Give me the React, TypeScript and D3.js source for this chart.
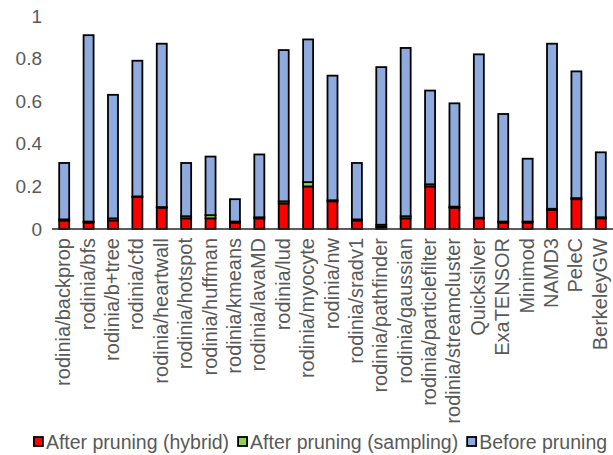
import React from "react";
import * as d3 from "d3";

const categories = [
  "rodinia/backprop", "rodinia/bfs", "rodinia/b+tree", "rodinia/cfd", "rodinia/heartwall",
  "rodinia/hotspot", "rodinia/huffman", "rodinia/kmeans", "rodinia/lavaMD", "rodinia/lud",
  "rodinia/myocyte", "rodinia/nw", "rodinia/sradv1", "rodinia/pathfinder", "rodinia/gaussian",
  "rodinia/particlefilter", "rodinia/streamcluster", "Quicksilver", "ExaTENSOR", "Minimod",
  "NAMD3", "PeleC", "BerkeleyGW",
];
// After pruning (hybrid)
const hybrid = [0.04, 0.03, 0.04, 0.15, 0.1, 0.05, 0.05, 0.03, 0.05, 0.12, 0.2, 0.13, 0.04, 0.01, 0.05, 0.2, 0.1, 0.05, 0.03, 0.03, 0.09, 0.14, 0.05];
// After pruning (sampling) - increment over hybrid
const sampling = [0.005, 0.005, 0.01, 0.003, 0.003, 0.01, 0.015, 0.005, 0.005, 0.01, 0.02, 0.005, 0.005, 0.01, 0.01, 0.01, 0.005, 0.003, 0.005, 0.005, 0.005, 0.005, 0.005];
// Before pruning (total)
const before = [0.31, 0.91, 0.63, 0.79, 0.87, 0.31, 0.34, 0.14, 0.35, 0.84, 0.89, 0.72, 0.31, 0.76, 0.85, 0.65, 0.59, 0.82, 0.54, 0.33, 0.87, 0.74, 0.36];
const yTicks = [0, 0.2, 0.4, 0.6, 0.8, 1];
const seriesNames = ["After pruning (hybrid)", "After pruning (sampling)", "Before pruning"];
const seriesColors = ["#FF0000", "#92D050", "#8FAADC"];

const font = "'Liberation Sans', Arial, sans-serif";

function measure(text: string, size: number): number {
  if (typeof document === "undefined") return text.length * size * 0.5;
  const c = document.createElement("canvas").getContext("2d");
  if (!c) return text.length * size * 0.5;
  c.font = `${size}px 'Liberation Sans', Arial, sans-serif`;
  return c.measureText(text).width;
}

export default function App() {
  const W = 613, H = 455;
  const x = d3.scaleBand<string>().domain(categories).range([52, 613]).paddingInner(0.59).paddingOuter(0.295);
  const y = d3.scaleLinear().domain([0, 1]).range([229, 16]);

  const rows = categories.map((c, i) => ({
    cat: c,
    s0: hybrid[i],
    s1: sampling[i],
    s2: Math.max(0, before[i] - hybrid[i] - sampling[i]),
  }));
  const stack = d3.stack<any>().keys(["s0", "s1", "s2"]);
  const layers = stack(rows);

  const legendFont = 19.5;
  const sq = 10;
  const sqGap = 3;
  const itemGap = 8;
  const widths = seriesNames.map((s) => sq + sqGap + measure(s, legendFont));
  const total = widths.reduce((a, b) => a + b, 0) + itemGap * (seriesNames.length - 1);
  let lx = 320 - total / 2;
  const legendPos = widths.map((w) => {
    const p = lx;
    lx += w + itemGap;
    return p;
  });
  const ly = 442;

  return (
    <svg width={W} height={H} style={{ position: "absolute", left: 0, top: 0, background: "#fff" }}>
      {yTicks.map((t) => (
        <text key={t} x={42} y={y(t)} dy="0.35em" textAnchor="end" fontFamily={font} fontSize={19} fill="#595959">
          {d3.format("~g")(t)}
        </text>
      ))}
      {layers.map((layer, li) => (
        <g key={li}>
          {layer.map((d, i) => (
            <rect
              key={i}
              x={x(categories[i])}
              y={y(d[1])}
              width={x.bandwidth()}
              height={Math.max(0, y(d[0]) - y(d[1]))}
              fill={seriesColors[li]}
              stroke="#000"
              strokeWidth={1.8}
            />
          ))}
        </g>
      ))}
      <line x1={52} x2={613} y1={y(0)} y2={y(0)} stroke="#262626" strokeWidth={1.3} />
      {categories.map((c) => {
        const cx = (x(c) as number) + x.bandwidth() / 2;
        return (
          <text key={c} transform={`translate(${cx - 1},238) rotate(-90)`} textAnchor="end" dy="0.35em"
            fontFamily={font} fontSize={20} fill="#595959">
            {c}
          </text>
        );
      })}
      {seriesNames.map((s, i) => (
        <g key={s}>
          <rect x={legendPos[i] + 1} y={ly - sq / 2} width={sq - 1} height={sq - 1} fill={seriesColors[i]} stroke="#000" strokeWidth={1.8} />
          <text x={legendPos[i] + sq + sqGap} y={ly} dy="0.35em" fontFamily={font} fontSize={legendFont} fill="#595959">{s}</text>
        </g>
      ))}
    </svg>
  );
}
